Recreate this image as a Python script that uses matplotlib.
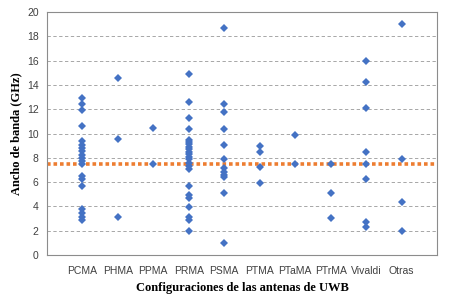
import matplotlib
matplotlib.use("Agg")
import matplotlib.pyplot as plt

categories = ["PCMA", "PHMA", "PPMA", "PRMA", "PSMA", "PTMA", "PTaMA", "PTrMA", "Vivaldi", "Otras"]

# ancho de banda (GHz) de cada antena, por configuracion
pcma = [12.95, 12.46, 11.9, 10.64, 9.36, 9.03, 8.8, 8.6, 8.2, 7.96, 7.76, 7.49,
        6.53, 6.28, 5.68, 3.76, 3.43, 3.1, 2.86]
phma = [14.57, 9.52, 3.13]
ppma = [10.48, 7.52]
prma = [14.87, 12.6, 11.28, 10.4, 9.5, 9.3, 9.1, 8.9, 8.7, 8.5, 8.3, 8.1, 7.9,
        7.6, 7.3, 7.1, 5.68, 4.94, 4.66, 3.98, 3.15, 2.88, 1.98]
psma = [18.66, 12.45, 11.74, 10.34, 9.08, 7.87, 7.13, 6.86, 6.61, 6.4, 5.08, 0.96]
ptma = [8.97, 8.48, 7.24, 5.95]
ptama = [9.88, 7.52]
ptrma = [7.52, 5.13, 3.02]
vivaldi = [15.99, 14.27, 12.07, 8.48, 7.52, 6.26, 2.72, 2.33]
otras = [18.99, 7.93, 4.34, 1.98]

series = [pcma, phma, ppma, prma, psma, ptma, ptama, ptrma, vivaldi, otras]
limite = 7.5  # linea de referencia

fig = plt.figure(figsize=(4.6, 3.07), dpi=100)
ax = fig.add_axes([0.102, 0.169, 0.848, 0.792])

for i, vals in enumerate(series, start=1):
    ax.plot([i] * len(vals), vals, linestyle="none", marker="D", markersize=3.6,
            color="#4472C4", markeredgewidth=0, zorder=3)

ax.axhline(limite, color="#ED7D31", linewidth=2.6, linestyle=(0, (1, 0.8)), zorder=2)

ax.set_xlim(0, 11)
ax.set_ylim(0, 20)
ax.set_yticks(range(0, 21, 2))
ax.set_xticks(range(1, 11))
ax.set_xticklabels(categories)
for y in range(2, 20, 2):
    ax.axhline(y, color="#999999", linewidth=0.6, linestyle=(0, (4, 3)), zorder=1)

ax.tick_params(axis="x", length=0, labelsize=7.5, colors="#404040", pad=8)
ax.tick_params(axis="y", length=0, labelsize=7.5, colors="#404040", pad=6)
for lab in ax.get_xticklabels() + ax.get_yticklabels():
    lab.set_family("Liberation Sans")
for s in ax.spines.values():
    s.set_color("#8c8c8c")
    s.set_linewidth(0.8)

ax.set_xlabel("Configuraciones de las antenas de UWB", family="Liberation Serif",
              fontweight="bold", fontsize=9, labelpad=4)
ax.set_ylabel("Ancho de banda (GHz)", family="Liberation Serif",
              fontweight="bold", fontsize=9, labelpad=3)

fig.savefig("out.png", dpi=100)
